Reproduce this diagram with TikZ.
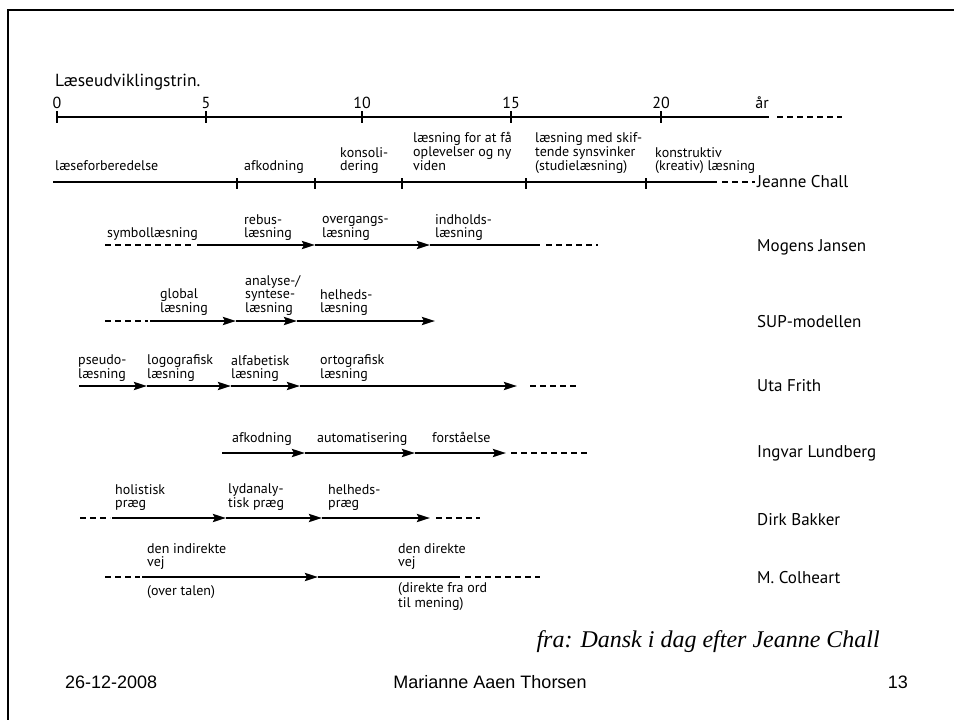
\documentclass[tikz,border=0pt]{standalone}
\usepackage{fontspec}
\setmainfont{PT Sans}
\newfontfamily\footfont{Liberation Sans}
\newfontfamily\citefont{Liberation Serif}
\usetikzlibrary{arrows.meta}

\tikzset{
  trin/.style={font=\fontsize{14}{12.5}\selectfont, align=left, anchor=base west, inner sep=0pt},
  navn/.style={font=\fontsize{17}{19}\selectfont, anchor=west, inner sep=0pt},
  tal/.style={font=\fontsize{16}{18}\selectfont, anchor=base, inner sep=0pt},
  fod/.style={font=\footfont\fontsize{18}{20}\selectfont, inner sep=0pt},
  spor/.style={line width=2.5pt},
  stiplet/.style={line width=2.5pt, dash pattern=on 6pt off 4pt},
  pil/.style={line width=2.5pt, -{Stealth[length=13pt,width=8pt,inset=2pt]}},
  streg/.style={line width=2pt}
}

\begin{document}
\begin{tikzpicture}[x=1pt, y=-1pt]
\useasboundingbox (0,0) rectangle (954,720);
\draw[line width=1.5pt] (954,10) -- (8,10) -- (8,720);

% aldersskala
\node[trin, font=\fontsize{17.5}{19}\selectfont] (titel) at (55,86) {Læseudviklingstrin.};
\foreach \a/\x in {0/57,5/206,10/362,15/511,20/661}
{
  \path (\x,117) coordinate (T\a);
  \draw[streg] ([yshift=6pt]T\a) -- ([yshift=-6pt]T\a);
  \node[tal] (N\a) at (\x,108) {\a};
}
\node[tal] (aar) at (762,108) {år};
\path (769,117) coordinate (Tslut) (777,117) coordinate (Tstip) (842,117) coordinate (Tend);
\draw[spor] (T0) -- (Tslut);
\draw[stiplet] (Tstip) -- (Tend);

% Jeanne Chall
\foreach \x [count=\i] in {53,237,315,402,526,646,717,722,755}
{
  \path (\x,182) coordinate (C\i);
}
\draw[spor] (C1) -- (C7);
\draw[stiplet] (C8) -- (C9);
\foreach \i in {2,...,6}
{
  \draw[streg] ([yshift=4pt]C\i) -- ([yshift=-7pt]C\i);
}
\node[trin] (c1) at (55,170) {læseforberedelse};
\node[trin] (c2) at (244,170) {afkodning};
\node[trin] (c3) at (340,170) {konsoli-\\dering};
\node[trin] (c4) at (413,170) {læsning for at få\\oplevelser og ny\\viden};
\node[trin] (c5) at (535,170) {læsning med skif-\\tende synsvinker\\(studielæsning)};
\node[trin] (c6) at (655,170) {konstruktiv\\(kreativ) læsning};
\node[navn] (chall) at (757,182) {Jeanne Chall};

% Mogens Jansen
\foreach \x [count=\i] in {105,192,197,315,430,540,546,598}
{
  \path (\x,245) coordinate (J\i);
}
\draw[stiplet] (J1) -- (J2);
\draw[pil] (J3) -- (J4);
\draw[pil] (J4) -- (J5);
\draw[spor] (J5) -- (J6);
\draw[stiplet] (J7) -- (J8);
\node[trin] (j1) at (107,237) {symbollæsning};
\node[trin] (j2) at (244,237) {rebus-\\læsning};
\node[trin] (j3) at (322,237) {overgangs-\\læsning};
\node[trin] (j4) at (435,237) {indholds-\\læsning};
\node[navn] (jansen) at (757,247) {Mogens Jansen};

% SUP-modellen
\foreach \x [count=\i] in {105,148,150,236,297,435}
{
  \path (\x,321) coordinate (S\i);
}
\draw[stiplet] (S1) -- (S2);
\draw[pil] (S3) -- (S4);
\draw[pil] (S4) -- (S5);
\draw[pil] (S5) -- (S6);
\node[trin] (s1) at (160,312) {global\\læsning};
\node[trin] (s2) at (245,312) {analyse-/\\syntese-\\læsning};
\node[trin] (s3) at (320,312) {helheds-\\læsning};
\node[navn] (sup) at (757,322) {SUP-modellen};

% Uta Frith
\foreach \x [count=\i] in {79,147,231,300,517,530,579}
{
  \path (\x,386) coordinate (F\i);
}
\draw[pil] (F1) -- (F2);
\draw[pil] (F2) -- (F3);
\draw[pil] (F3) -- (F4);
\draw[pil] (F4) -- (F5);
\draw[stiplet] (F6) -- (F7);
\node[trin] (f1) at (78,378) {pseudo-\\læsning};
\node[trin] (f2) at (147,378) {logografisk\\læsning};
\node[trin] (f3) at (231,378) {alfabetisk\\læsning};
\node[trin] (f4) at (320,378) {ortografisk\\læsning};
\node[navn] (frith) at (757,386) {Uta Frith};

% Ingvar Lundberg
\foreach \x [count=\i] in {222,305,415,506,511,587}
{
  \path (\x,453) coordinate (L\i);
}
\draw[pil] (L1) -- (L2);
\draw[pil] (L2) -- (L3);
\draw[pil] (L3) -- (L4);
\draw[stiplet] (L5) -- (L6);
\node[trin] (l1) at (232,442) {afkodning};
\node[trin] (l2) at (317,442) {automatisering};
\node[trin] (l3) at (432,442) {forståelse};
\node[navn] (lundberg) at (757,453) {Ingvar Lundberg};

% Dirk Bakker
\foreach \x [count=\i] in {80,110,112,226,322,430,436,480}
{
  \path (\x,518) coordinate (B\i);
}
\draw[stiplet] (B1) -- (B2);
\draw[pil] (B3) -- (B4);
\draw[pil] (B4) -- (B5);
\draw[pil] (B5) -- (B6);
\draw[stiplet] (B7) -- (B8);
\node[trin] (b1) at (115,507) {holistisk\\præg};
\node[trin] (b2) at (228,507) {lydanaly-\\tisk præg};
\node[trin] (b3) at (328,507) {helheds-\\præg};
\node[navn] (bakker) at (757,520) {Dirk Bakker};

% M. Colheart
\foreach \x [count=\i] in {105,140,142,318,460,465,540}
{
  \path (\x,577) coordinate (M\i);
}
\draw[stiplet] (M1) -- (M2);
\draw[pil] (M3) -- (M4);
\draw[spor] (M4) -- (M5);
\draw[stiplet] (M6) -- (M7);
\node[trin] (m1) at (147,566) {den indirekte\\vej};
\node[trin] (m2) at (398,566) {den direkte\\vej};
\node[trin] (m3) at (147,595) {(over talen)};
\node[trin] (m4) at (398,607) {(direkte fra ord\\til mening)};
\node[navn] (colheart) at (757,578) {M. Colheart};

% kilde og sidefod
\node[font=\citefont\itshape\fontsize{24}{26}\selectfont, anchor=base east, inner sep=0pt] (kilde) at (880,647) {fra: Dansk i dag efter Jeanne Chall};
\node[fod, anchor=base west] (dato) at (65,688) {26-12-2008};
\node[fod, anchor=base] (forfatter) at (490,688) {Marianne Aaen Thorsen};
\node[fod, anchor=base east] (side) at (908,688) {13};
\end{tikzpicture}
\end{document}
